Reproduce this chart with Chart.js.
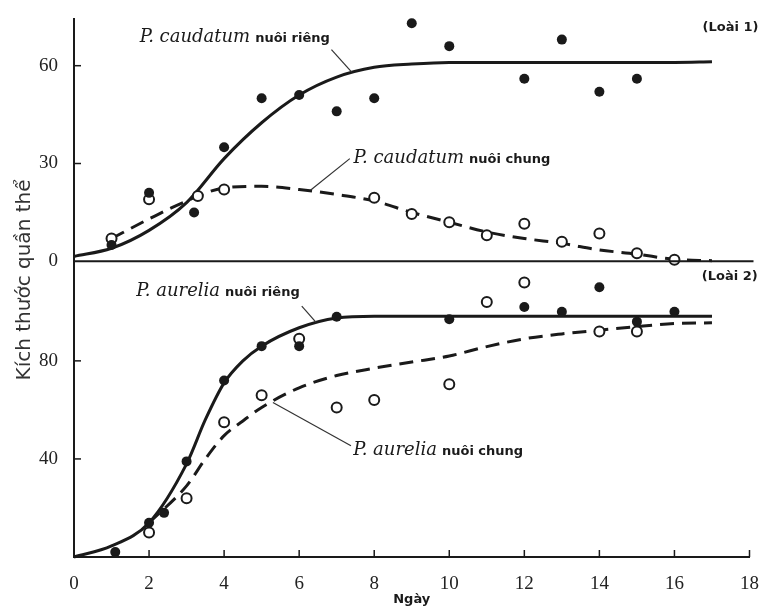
<!DOCTYPE html>
<html lang="vi">
<head>
<meta charset="utf-8">
<script src="https://cdn.jsdelivr.net/npm/chart.js@4.4.1/dist/chart.umd.min.js"></script>
<style>
    html, body { margin: 0; padding: 0; background: #fff; }
    #Contenedor { width: 767px; height: 607px; position: relative; }
</style>
</head>
<body>
<div id="Contenedor"><canvas id="ChartCanhTranh"></canvas></div>
<script>

// Loài 1: P. caudatum (điểm đo)
const CaudRiengNgay = [1, 2, 3.2, 4, 5, 6, 7, 8, 9, 10, 12, 13, 14, 15];
const CaudRiengSoLuong = [5, 21, 15, 35, 50, 51, 46, 50, 73, 66, 56, 68, 52, 56];
const CaudChungNgay = [1, 2, 3.3, 4, 8, 9, 10, 11, 12, 13, 14, 15, 16];
const CaudChungSoLuong = [7, 19, 20, 22, 19.5, 14.5, 12, 8, 11.5, 6, 8.5, 2.5, 0.5];

// Loài 1: đường cong
const CaudRiengDuongNgay = [0, 1, 2, 3, 4, 5, 6, 7, 8, 9, 10, 11, 12, 13, 14, 15, 16, 17];
const CaudRiengDuong = [1.5, 4, 9.5, 18, 31.5, 42.5, 51, 56.5, 59.5, 60.5, 61, 61, 61, 61, 61, 61, 61, 61.2];
const CaudChungDuongNgay = [1, 2, 3, 4, 5, 6, 7, 8, 9, 10, 11, 12, 13, 14, 15, 16, 17];
const CaudChungDuong = [7, 13, 18.5, 22.5, 23, 22, 20.5, 18.5, 15, 12, 9, 7, 5.5, 3.5, 2.2, 0.6, 0.2];

// Loài 2: P. aurelia (điểm đo)
const AurRiengNgay = [1.1, 2, 2.4, 3, 4, 5, 6, 7, 10, 12, 13, 14, 15, 16];
const AurRiengSoLuong = [2, 14, 18, 39, 72, 86, 86, 98, 97, 102, 100, 110, 96, 100];
const AurChungNgay = [2, 3, 4, 5, 6, 7, 8, 10, 11, 12, 14, 15];
const AurChungSoLuong = [10, 24, 55, 66, 89, 61, 64, 70.5, 104, 112, 92, 92];

// Loài 2: đường cong
const AurRiengDuongNgay = [0, 1, 2, 3, 3.5, 4, 4.5, 5, 6, 7, 8, 9, 10, 11, 12, 13, 14, 15, 16, 17];
const AurRiengDuong = [0, 4.5, 14, 38, 56, 71, 80, 86, 93.5, 97.5, 98.2, 98.2, 98.2, 98.2, 98.2, 98.2, 98.2, 98.2, 98.2, 98.2];
const AurChungDuongNgay = [2, 3, 3.5, 4, 4.5, 5, 6, 7, 8, 9, 10, 11, 12, 13, 14, 15, 16, 17];
const AurChungDuong = [14, 29, 40, 49.5, 55.5, 61, 69, 74, 77, 79.5, 82, 85.8, 89, 91, 92.5, 94, 95.2, 95.5];

// Trục
const TicksNgay = [0, 2, 4, 6, 8, 10, 12, 14, 16, 18];
const TicksLoai1 = [0, 30, 60];
const TicksLoai2 = [40, 80];

const ColorTinta = '#1a1a1a';

const Puntos = (xs, ys) => xs.map((x, i) => ({ x: x, y: ys[i] }));

const Rotulos = [
    { eje: 'yA', x: 1.75, y: 68.6, cursiva: 'P. caudatum', normal: 'nuôi riêng' },
    { eje: 'yA', x: 7.45, y: 31.5, cursiva: 'P. caudatum', normal: 'nuôi chung' },
    { eje: 'yB', x: 1.66, y: 108.4, cursiva: 'P. aurelia', normal: 'nuôi riêng' },
    { eje: 'yB', x: 7.44, y: 43.4, cursiva: 'P. aurelia', normal: 'nuôi chung' }
];

const Lineas = [
    { eje: 'yA', x1: 6.86, y1: 64.9, x2: 7.4, y2: 58 },
    { eje: 'yA', x1: 7.35, y1: 31.5, x2: 6.3, y2: 21.8 },
    { eje: 'yB', x1: 6.07, y1: 102.3, x2: 6.45, y2: 95.7 },
    { eje: 'yB', x1: 7.38, y1: 45.4, x2: 5.3, y2: 63 }
];

const Especies = [
    { eje: 'yA', x: 18.24, y: 71.6, texto: '(Loài 1)' },
    { eje: 'yB', x: 18.22, y: 114.5, texto: '(Loài 2)' }
];

const PluginAnotaciones = {
    id: 'anotaciones',
    afterDraw: (chart) => {
        const ctx = chart.ctx;
        const x = chart.scales.x;
        const yA = chart.scales.yA;
        const yB = chart.scales.yB;
        const area = chart.chartArea;

        ctx.save();
        ctx.strokeStyle = ColorTinta;
        ctx.fillStyle = ColorTinta;

        // đường 0 của loài 1
        ctx.lineWidth = 2;
        ctx.beginPath();
        ctx.moveTo(area.left, yA.getPixelForValue(0));
        ctx.lineTo(area.right + 4, yA.getPixelForValue(0));
        ctx.stroke();

        // vạch chia hướng vào trong
        ctx.lineWidth = 1.5;
        TicksNgay.filter(v => v > 0).forEach(v => {
            const px = x.getPixelForValue(v);
            ctx.beginPath();
            ctx.moveTo(px, area.bottom);
            ctx.lineTo(px, area.bottom - 7);
            ctx.stroke();
        });
        TicksLoai1.filter(v => v > 0).forEach(v => {
            const py = yA.getPixelForValue(v);
            ctx.beginPath();
            ctx.moveTo(area.left, py);
            ctx.lineTo(area.left + 7, py);
            ctx.stroke();
        });
        TicksLoai2.forEach(v => {
            const py = yB.getPixelForValue(v);
            ctx.beginPath();
            ctx.moveTo(area.left, py);
            ctx.lineTo(area.left + 7, py);
            ctx.stroke();
        });

        // đường dẫn
        ctx.lineWidth = 1.2;
        ctx.strokeStyle = '#333';
        Lineas.forEach(l => {
            const eje = chart.scales[l.eje];
            ctx.beginPath();
            ctx.moveTo(x.getPixelForValue(l.x1), eje.getPixelForValue(l.y1));
            ctx.lineTo(x.getPixelForValue(l.x2), eje.getPixelForValue(l.y2));
            ctx.stroke();
        });

        // nhãn
        ctx.textBaseline = 'middle';
        ctx.textAlign = 'left';
        Rotulos.forEach(r => {
            const eje = chart.scales[r.eje];
            const px = x.getPixelForValue(r.x);
            const py = eje.getPixelForValue(r.y);
            ctx.font = 'italic 18px "DejaVu Serif"';
            ctx.fillText(r.cursiva, px, py);
            const ancho = ctx.measureText(r.cursiva).width;
            ctx.font = 'bold 13px "DejaVu Sans"';
            ctx.fillText(r.normal, px + ancho + 5, py + 1);
        });

        ctx.textAlign = 'right';
        ctx.font = 'bold 13px "DejaVu Sans"';
        Especies.forEach(e => {
            const eje = chart.scales[e.eje];
            ctx.fillText(e.texto, x.getPixelForValue(e.x), eje.getPixelForValue(e.y));
        });

        // tiêu đề trục tung
        ctx.translate(25, 280);
        ctx.rotate(-Math.PI / 2);
        ctx.textAlign = 'center';
        ctx.fillStyle = '#333';
        ctx.font = '20px "DejaVu Sans"';
        ctx.fillText('Kích thước quần thể', 0, 0);

        ctx.restore();
    }
};

var ChartCanhTranh = null;

const InitGrafico = () => {

    const ctxCanhTranh = document.getElementById('ChartCanhTranh');

    const FuenteTicks = { family: 'Liberation Serif', size: 19 };

    ChartCanhTranh = new Chart(ctxCanhTranh, {
        type: 'scatter',
        data: {
            datasets: [{
                label: 'P. caudatum nuôi riêng',
                data: Puntos(CaudRiengNgay, CaudRiengSoLuong),
                yAxisID: 'yA',
                backgroundColor: ColorTinta,
                borderWidth: 0,
                pointRadius: 5,
                clip: false,
                order: 0
            }, {
                label: 'P. caudatum nuôi chung',
                data: Puntos(CaudChungNgay, CaudChungSoLuong),
                yAxisID: 'yA',
                backgroundColor: '#fff',
                borderColor: ColorTinta,
                borderWidth: 2,
                pointRadius: 5,
                clip: false,
                order: 0
            }, {
                type: 'line',
                label: 'P. caudatum nuôi riêng (đường)',
                data: Puntos(CaudRiengDuongNgay, CaudRiengDuong),
                yAxisID: 'yA',
                borderColor: ColorTinta,
                borderWidth: 3,
                pointRadius: 0,
                cubicInterpolationMode: 'monotone',
                fill: false,
                clip: false,
                order: 1
            }, {
                type: 'line',
                label: 'P. caudatum nuôi chung (đường)',
                data: Puntos(CaudChungDuongNgay, CaudChungDuong),
                yAxisID: 'yA',
                borderColor: ColorTinta,
                borderWidth: 3,
                borderDash: [14, 8],
                pointRadius: 0,
                cubicInterpolationMode: 'monotone',
                fill: false,
                clip: false,
                order: 1
            }, {
                label: 'P. aurelia nuôi riêng',
                data: Puntos(AurRiengNgay, AurRiengSoLuong),
                yAxisID: 'yB',
                backgroundColor: ColorTinta,
                borderWidth: 0,
                pointRadius: 5,
                clip: false,
                order: 0
            }, {
                label: 'P. aurelia nuôi chung',
                data: Puntos(AurChungNgay, AurChungSoLuong),
                yAxisID: 'yB',
                backgroundColor: '#fff',
                borderColor: ColorTinta,
                borderWidth: 2,
                pointRadius: 5,
                clip: false,
                order: 0
            }, {
                type: 'line',
                label: 'P. aurelia nuôi riêng (đường)',
                data: Puntos(AurRiengDuongNgay, AurRiengDuong),
                yAxisID: 'yB',
                borderColor: ColorTinta,
                borderWidth: 3,
                pointRadius: 0,
                cubicInterpolationMode: 'monotone',
                fill: false,
                clip: false,
                order: 1
            }, {
                type: 'line',
                label: 'P. aurelia nuôi chung (đường)',
                data: Puntos(AurChungDuongNgay, AurChungDuong),
                yAxisID: 'yB',
                borderColor: ColorTinta,
                borderWidth: 3,
                borderDash: [14, 8],
                pointRadius: 0,
                cubicInterpolationMode: 'monotone',
                fill: false,
                clip: false,
                order: 1
            }]
        },
        options: {
            responsive: true,
            maintainAspectRatio: false,
            animation: false,
            layout: {
                padding: { top: 17, right: 13, left: 0, bottom: 0 }
            },
            plugins: {
                legend: { display: false },
                tooltip: { enabled: false }
            },
            scales: {
                x: {
                    type: 'linear',
                    position: 'bottom',
                    min: 0,
                    max: 18,
                    afterBuildTicks: (scale) => {
                        scale.ticks = TicksNgay.map(v => ({ value: v }));
                    },
                    afterFit: (scale) => {
                        scale.height = 50;
                    },
                    grid: { display: false },
                    border: { color: ColorTinta, width: 2 },
                    ticks: { font: FuenteTicks, color: '#222', padding: 8 },
                    title: {
                        display: true,
                        text: 'Ngày',
                        color: ColorTinta,
                        font: { family: 'DejaVu Sans', size: 13, weight: 'bold' },
                        padding: { top: 0, bottom: 0 }
                    }
                },
                yB: {
                    type: 'linear',
                    position: 'left',
                    stack: 'paneles',
                    stackWeight: 297,
                    weight: 0,
                    min: 0,
                    max: 120.6,
                    afterBuildTicks: (scale) => {
                        scale.ticks = TicksLoai2.map(v => ({ value: v }));
                    },
                    afterFit: (scale) => {
                        scale.width = 74;
                    },
                    grid: { display: false },
                    border: { color: ColorTinta, width: 2 },
                    ticks: { font: FuenteTicks, color: '#222', padding: 8 }
                },
                yA: {
                    type: 'linear',
                    position: 'left',
                    stack: 'paneles',
                    stackWeight: 243,
                    weight: 1,
                    min: 0,
                    max: 74.2,
                    afterBuildTicks: (scale) => {
                        scale.ticks = TicksLoai1.map(v => ({ value: v }));
                    },
                    afterFit: (scale) => {
                        scale.width = 74;
                    },
                    grid: { display: false },
                    border: { color: ColorTinta, width: 2 },
                    ticks: { font: FuenteTicks, color: '#222', padding: 8 }
                }
            }
        },
        plugins: [PluginAnotaciones]
    });

}

InitGrafico();

</script>
</body>
</html>
